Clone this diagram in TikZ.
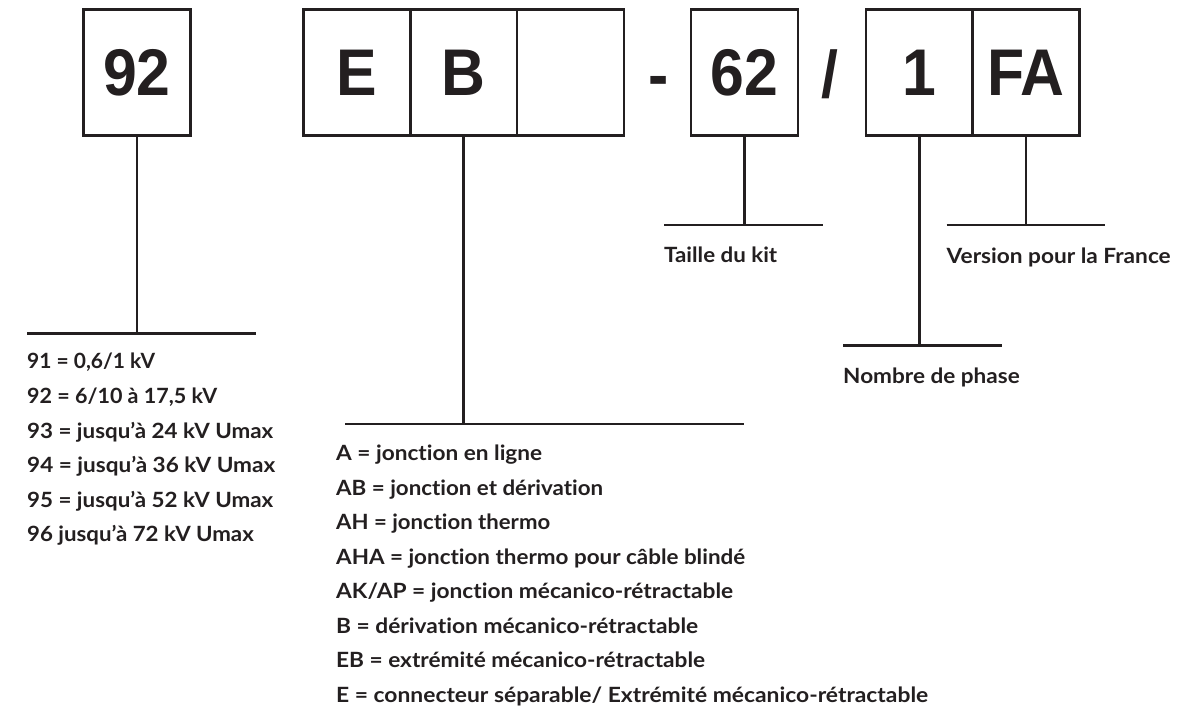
\documentclass[tikz,border=0pt]{standalone}
\usepackage{graphicx}
\usepackage{fontspec}
\setmainfont{Liberation Sans}
\newfontfamily\labfont{Lato}[Ligatures=CommonOff]
\definecolor{ink}{HTML}{231F20}
\newcommand\bxl[1]{\scalebox{0.92}[1]{#1}}
\newcommand\fitw[2]{\resizebox{#1pt}{\height}{#2}}
\begin{document}
\begin{tikzpicture}[x=1pt,y=-1pt,
  cell/.style={draw=ink, line width=2.2pt, minimum width=107pt, minimum height=126pt, inner sep=0pt, text=ink, font=\fontsize{66}{66}\selectfont\bfseries},
  sym/.style={inner sep=0pt, anchor=base, text=ink, font=\fontsize{66}{66}\selectfont\bfseries},
  stem/.style={draw=ink, line width=2.2pt},
  bar/.style={draw=ink, line width=2.8pt},
  lab/.style={inner sep=0pt, anchor=base west, text=ink, font=\fontsize{21}{24}\labfont\bfseries}
]
\useasboundingbox[fill=white] (0,0) rectangle (1204,708);

% boxes
\node[cell] (b92) at (137,72.5) {\bxl{92}};
\node[cell] (bE) at (357,72.5) {\bxl{E}};
\node[cell] (bB) at (463.5,72.5) {\bxl{B}};
\node[cell] (bX) at (570.5,72.5) {};
\node[sym] (dash) at (659,98) {\bxl{-}};
\node[cell] (b62) at (744.5,72.5) {\bxl{62}};
\node[sym] (slash) at (830,98) {\bxl{/}};
\node[cell] (b1) at (919.5,72.5) {\bxl{1}};
\node[cell] (bFA) at (1026,72.5) {\bxl{FA}};

% junctions and bars
\coordinate (j92) at (137,333.3);
\coordinate (l92a) at (27,333.3);
\coordinate (l92b) at (256,333.3);
\draw[stem] (b92.south) -- (j92);
\draw[bar] (l92a) -- (l92b);

\coordinate (jB) at (463.5,424);
\coordinate (lBa) at (345,424);
\coordinate (lBb) at (744.3,424);
\draw[stem] (bB.south) -- (jB);
\draw[bar] (lBa) -- (lBb);

\coordinate (j62) at (744.5,225);
\coordinate (l62a) at (664,225);
\coordinate (l62b) at (822.7,225);
\draw[stem] (b62.south) -- (j62);
\draw[bar] (l62a) -- (l62b);

\coordinate (j1) at (919.5,345.5);
\coordinate (l1a) at (843,345.5);
\coordinate (l1b) at (1001.5,345.5);
\draw[stem] (b1.south) -- (j1);
\draw[bar] (l1a) -- (l1b);

\coordinate (jFA) at (1026,225);
\coordinate (lFAa) at (946.5,225);
\coordinate (lFAb) at (1104.7,225);
\draw[stem] (bFA.south) -- (jFA);
\draw[bar] (lFAa) -- (lFAb);

% left list
\node[lab] (t91) at (27,369) {\fitw{128}{91 = 0,6/1 kV}};
\node[lab] (t92) at (27,403.5) {\fitw{190}{92 = 6/10 à 17,5 kV}};
\node[lab] (t93) at (27,438) {\fitw{246}{93 = jusqu’à 24 kV Umax}};
\node[lab] (t94) at (27,472.5) {\fitw{248}{94 = jusqu’à 36 kV Umax}};
\node[lab] (t95) at (27,507) {\fitw{246}{95 = jusqu’à 52 kV Umax}};
\node[lab] (t96) at (27,541.5) {\fitw{226.6}{96 jusqu’à 72 kV Umax}};

% middle list
\node[lab] (mA) at (336,460.5) {\fitw{206}{A = jonction en ligne}};
\node[lab] (mAB) at (336,495) {\fitw{267}{AB = jonction et dérivation}};
\node[lab] (mAH) at (336,529.5) {\fitw{214}{AH = jonction thermo}};
\node[lab] (mAHA) at (336,564) {\fitw{409}{AHA = jonction thermo pour câble blindé}};
\node[lab] (mAK) at (336,598.5) {\fitw{397}{AK/AP = jonction mécanico-rétractable}};
\node[lab] (mB) at (336,633) {\fitw{362}{B = dérivation mécanico-rétractable}};
\node[lab] (mEB) at (336,667.5) {\fitw{369}{EB = extrémité mécanico-rétractable}};
\node[lab] (mE) at (336,702) {\fitw{592}{E = connecteur séparable/ Extrémité mécanico-rétractable}};

% right labels
\node[lab] (taille) at (664,263) {\fitw{113}{Taille du kit}};
\node[lab] (version) at (946.5,264) {\fitw{224}{Version pour la France}};
\node[lab] (nombre) at (843,383) {\fitw{176.5}{Nombre de phase}};
\end{tikzpicture}
\end{document}
